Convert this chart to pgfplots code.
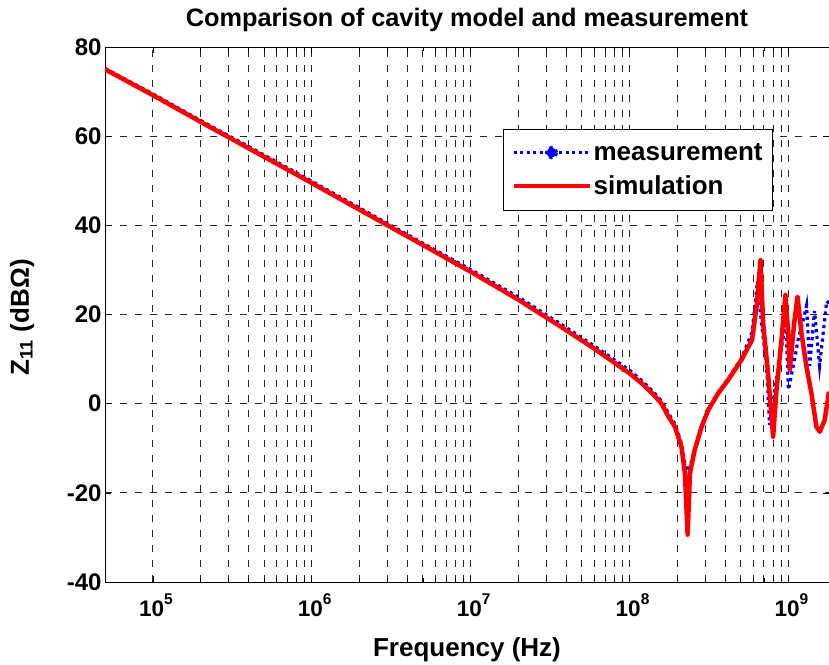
\documentclass[border=0pt]{standalone}
\usepackage{pgfplots}
\pgfplotsset{compat=1.18}
\usepackage{fontspec}
\setmainfont{Liberation Sans}
\newcommand{\tickf}{\fontsize{24}{28}\selectfont\bfseries}
\newcommand{\xtickf}{\fontsize{22.5}{26}\selectfont\bfseries}
\newcommand{\titlef}{\fontsize{25.3}{30}\selectfont\bfseries}
\newcommand{\labf}{\fontsize{26}{30}\selectfont\bfseries}
\newcommand{\dec}[1]{10\raisebox{12.5pt}{\fontsize{15.5}{18}\selectfont\bfseries #1}}
\pgfplotstableread{
f db
5e4 75.0
1e5 69.2
2e5 63.2
5e5 55.4
1e6 49.5
2e6 43.5
5e6 35.6
1e7 29.6
2e7 23.3
3.68e7 17.3
5.97e7 12.4
1e8 6.8
1.19e8 4.6
1.4e8 2.2
1.59e8 0
1.75e8 -2.8
1.93e8 -5.2
2.12e8 -9.6
2.23e8 -15.6
2.32e8 -29.4
2.40e8 -15.6
2.57e8 -10.4
2.84e8 -5.2
3.13e8 -1.4
3.61e8 2.3
4.17e8 5.3
5.06e8 9.8
5.9e8 14.3
6.3e8 21.7
6.67e8 32.2
6.93e8 18
7.44e8 6.8
8.01e8 -7.4
8.41e8 3.1
9.04e8 14.3
9.57e8 24.4
9.96e8 15.8
1.019e9 7.6
1.086e9 18
1.14e9 24
1.208e9 15.8
1.298e9 8.3
1.395e9 2.3
1.50e9 -5.2
1.574e9 -6.3
1.69e9 -3.7
1.8e9 2.7
}\simdata
\pgfplotstableread{
f db
5e4 75.2
1e5 69.5
2e5 63.5
5e5 55.8
1e6 49.9
2e6 43.9
5e6 36.0
1e7 30.1
2e7 23.9
3.68e7 17.9
5.97e7 13.0
1e8 7.5
1.19e8 5.2
1.4e8 2.8
1.59e8 0.6
1.75e8 -2.0
1.93e8 -4.6
2.12e8 -8.9
2.23e8 -13.4
2.32e8 -15.2
2.40e8 -14.1
2.57e8 -10.4
2.84e8 -5.0
3.13e8 -1.2
3.61e8 2.5
4.17e8 5.6
5.06e8 10.2
5.9e8 16
6.38e8 27.4
6.59e8 21.7
6.93e8 15
7.28e8 8.3
7.44e8 2.3
7.6e8 -4.8
8.01e8 0.8
8.61e8 7.6
9.26e8 15
9.6e8 20
1.0e9 3.1
1.07e9 8.3
1.15e9 14.3
1.24e9 18.8
1.30e9 22.0
1.36e9 8.5
1.46e9 20.8
1.57e9 8.5
1.74e9 23.0
1.8e9 22.5
}\measdata
\begin{document}
\begin{tikzpicture}
\path[use as bounding box] (0,0) rectangle (829pt,664pt);
\begin{axis}[
  at={(105pt,82pt)}, anchor=south west,
  scale only axis, width=724pt, height=535pt,
  xmode=log, xmin=5e4, xmax=1.8e9, ymin=-40, ymax=80,
  xtick={1e5,1e6,1e7,1e8,1e9},
  xticklabels={\dec{5},\dec{6},\dec{7},\dec{8},\dec{9}},
  ytick={-40,-20,0,20,40,60,80},
  yticklabels={-40,-20,0,20,40,60,80},
  yticklabel style={font=\tickf},
  xticklabel style={font=\xtickf, yshift=-8pt, xshift=3pt},
  tick align=inside, major tick length=6pt, minor tick length=4pt,
  tick style={black, line width=0.6pt},
  axis line style={black, line width=0.8pt},
  grid=both, minor y tick num=0,
  major grid style={black!85, line width=0.7pt, dash pattern=on 7pt off 8pt},
  minor grid style={black!85, line width=0.7pt, dash pattern=on 7pt off 8pt},
  title={Comparison of cavity model and measurement},
  title style={font=\titlef, at={(axis description cs:0.5,1.039)}, anchor=center},
  xlabel={Frequency (Hz)},
  xlabel style={font=\labf, at={(axis description cs:0.5,-0.127)}, anchor=center},
  ylabel={Z\textsubscript{11} (dBΩ)},
  ylabel style={font=\labf, at={(axis description cs:-0.1146,0.495)}, anchor=center},
  legend style={font=\labf, at={(0.9227,0.8467)}, anchor=north east, draw=black, line width=0.8pt,
    inner xsep=8pt, inner ysep=12pt, row sep=10pt,
    /tikz/every even column/.append style={column sep=12pt}},
  legend cell align=left,
]
\addplot[blue, line width=3.2pt, dash pattern=on 3.2pt off 3.6pt,
  legend image code/.code={\draw[blue, line width=3pt, dash pattern=on 3pt off 3.5pt] (0pt,0pt) -- (76pt,0pt); \fill[blue] (38pt,0pt) circle (5pt);}]
  table[x=f, y=db] {\measdata};
\addlegendentry{measurement}
\addplot[red, line width=4.5pt, line join=round,
  legend image code/.code={\draw[red, line width=4pt] (0pt,0pt) -- (76pt,0pt);}]
  table[x=f, y=db] {\simdata};
\addlegendentry{simulation}
\end{axis}
\end{tikzpicture}
\end{document}
